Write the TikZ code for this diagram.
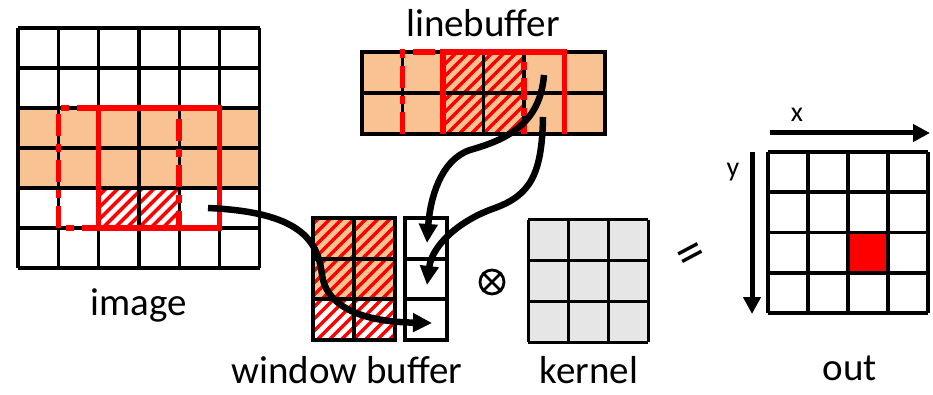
\documentclass[tikz,border=0pt]{standalone}
\usepackage{fontspec}
\setmainfont{Carlito}
\usetikzlibrary{arrows.meta}
\definecolor{peach}{RGB}{248,194,146}
\definecolor{kgray}{RGB}{230,230,230}
\tikzset{
  gridline/.style={line width=3.3pt, black},
  redsolid/.style={line width=5.5pt, red},
  reddash/.style={line width=5.5pt, red, dash pattern=on 22pt off 8pt on 8pt off 8pt},
  hatchline/.style={line width=3.4pt, red},
  flow/.style={line width=6.5pt, black, -{Triangle[length=19pt,width=18pt]}},
  axis/.style={line width=5pt, black, -{Triangle[length=17pt,width=17pt]}},
  lbl/.style={font=\fontsize{39}{42}\selectfont, anchor=base, inner sep=0pt},
  small/.style={font=\fontsize{28}{32}\selectfont, anchor=base, inner sep=0pt},
}
\newcommand{\hatchbox}[4]{%
  \begin{scope}
    \clip (#1,#2) rectangle (#3,#4);
    \foreach \k in {-140,-128,...,140} \draw[hatchline] ({#1+\k},#4) -- ++(160,-160);
  \end{scope}}
\begin{document}
\begin{tikzpicture}[x=1pt,y=-1pt]
\useasboundingbox (0,0) rectangle (933,395);
\fill[white] (0,0) rectangle (933,395);

% ---------------- image ----------------
\fill[peach] (18,108) rectangle (260,188);
\hatchbox{98.6}{188}{179.2}{228}
\foreach \i in {0,...,6} \draw[gridline] ({18+\i*40.3},28) -- ({18+\i*40.3},268);
\foreach \j in {0,...,6} \draw[gridline] (18,{28+\j*40}) -- (260,{28+\j*40});
\draw[reddash] (98.6,108) -- (58.3,108) -- (58.3,228) -- (179.2,228) -- (179.2,108) -- cycle;
\draw[redsolid] (98.6,108) rectangle (219.5,228);
\node[lbl] (imglbl) at (139,315) {image};
\coordinate (imgsrc) at (208,208);

% ---------------- linebuffer ----------------
\fill[peach] (362,52) rectangle (605,134);
\hatchbox{443}{52}{524}{134}
\draw[gridline] (362,52) rectangle (605,134);
\draw[gridline] (362,93) -- (605,93);
\foreach \i in {1,...,5} \draw[gridline] ({362+\i*40.5},52) -- ({362+\i*40.5},134);
\draw[reddash] (402.5,134) -- (402.5,52) -- (524,52) -- (524,134);
\draw[redsolid] (443,134) -- (443,52) -- (564.5,52) -- (564.5,134);
\node[lbl] (lblbuf) at (483,37) {linebuffer};
\coordinate (lbA) at (544,75);
\coordinate (lbB) at (543,117);

% ---------------- window buffer ----------------
\fill[peach] (313,218) rectangle (395,299);
\hatchbox{313}{218}{395}{340}
\draw[gridline] (313,218) rectangle (395,340);
\draw[gridline] (354,218) -- (354,340);
\draw[gridline] (313,259) -- (395,259);
\draw[gridline] (313,299) -- (395,299);
\draw[gridline] (405,218) rectangle (447,340);
\draw[gridline] (405,259) -- (447,259);
\draw[gridline] (405,299) -- (447,299);
\node[lbl] (wblbl) at (347,383) {window buffer};
\coordinate (colA) at (427,243);
\coordinate (colB) at (427,285);
\coordinate (colC) at (432,323);

% ---------------- otimes ----------------
\node[circle, draw, line width=2.8pt, minimum size=24pt, inner sep=0pt] (otim) at (492,282) {};
\draw[line width=2.8pt] (otim.north west) -- (otim.south east);
\draw[line width=2.8pt] (otim.north east) -- (otim.south west);

% ---------------- kernel ----------------
\fill[kgray] (528,220) rectangle (648,342);
\foreach \i in {0,...,3} \draw[line width=3pt] ({528+\i*40},220) -- ({528+\i*40},342);
\foreach \j in {0,...,3} \draw[line width=3pt] (528,{220+\j*40.67}) -- (648,{220+\j*40.67});
\node[lbl] (klbl) at (589,383) {kernel};

% ---------------- equals ----------------
\node[inner sep=0pt, rotate=28, font=\fontsize{54}{58}\selectfont] (eq) at (693,258) {=};

% ---------------- out ----------------
\fill[red] (848,232.5) rectangle (888,272.7);
\foreach \i in {0,...,4} \draw[gridline, line width=3.6pt] ({768+\i*40},152) -- ({768+\i*40},313);
\foreach \j in {0,...,4} \draw[gridline, line width=3.6pt] (768,{152+\j*40.25}) -- (928,{152+\j*40.25});
\node[lbl] (olbl) at (850,380) {out};
\coordinate (xs) at (770,133);
\coordinate (xe) at (930,133);
\coordinate (ys) at (752,152);
\coordinate (ye) at (752,314);
\draw[axis] (xs) -- (xe);
\draw[axis] (ys) -- (ye);
\node[small] (xl) at (797,122) {x};
\node[small] (yl) at (733,177) {y};

% ---------------- flow arrows ----------------
\draw[flow] (lbA) .. controls (540,125) and (505,140) .. (470,150)
               .. controls (440,160) and (430,200) .. (colA);
\draw[flow] (lbB) .. controls (542,175) and (530,195) .. (495,208)
               .. controls (460,220) and (432,245) .. (colB);
\draw[flow] (imgsrc) .. controls (300,212) and (318,240) .. (322,275)
               .. controls (328,315) and (380,322) .. (colC);
\end{tikzpicture}
\end{document}
